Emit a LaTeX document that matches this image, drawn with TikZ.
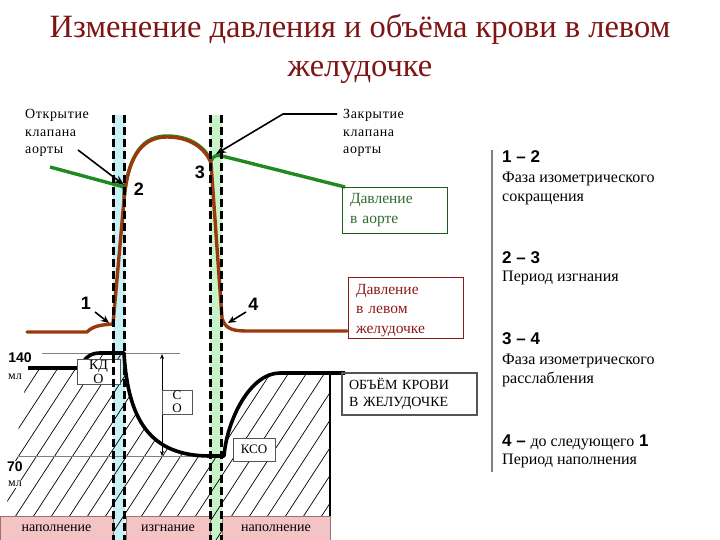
\documentclass[tikz,border=0pt]{standalone}
\usepackage{fontspec}
\setmainfont{Liberation Serif}
\newfontfamily\numf{Liberation Sans}
\newfontfamily\spaced[LetterSpace=4.5]{Liberation Serif}
\usetikzlibrary{arrows.meta}
\definecolor{titlered}{HTML}{7F1414}
\definecolor{brownc}{HTML}{9A3A0C}
\definecolor{greenc}{HTML}{1F8A1F}
\definecolor{bandblue}{HTML}{C8F0F5}
\definecolor{bandgreen}{HTML}{C8F3C8}
\definecolor{pinkf}{HTML}{F4C4C4}
\definecolor{pinkd}{HTML}{9A7070}
\definecolor{lvtext}{HTML}{8B1A1A}
\definecolor{aotext}{HTML}{2E6B2E}
\definecolor{boxgray}{HTML}{555555}
\tikzset{
  fs/.style n args={2}{font=\fontsize{#1}{#2}\selectfont},
  digit/.style={inner sep=0pt, font=\numf\bfseries\fontsize{18}{18}\selectfont},
  hdr/.style={inner sep=0pt, anchor=base west, font=\numf\bfseries\fontsize{17}{17}\selectfont},
  desc/.style={inner sep=0pt, align=left, font=\fontsize{16}{19.5}\selectfont},
  lbl/.style={inner sep=0pt, align=left, font=\spaced\fontsize{14}{17.7}\selectfont},
  arr/.style={-{Stealth[length=10pt,width=8pt]}, line width=1.6pt},
  sarr/.style={-{Stealth[length=8pt,width=7pt]}, line width=1.6pt},
  smallbox/.style={draw=boxgray, line width=1pt, fill=white, inner xsep=1pt, inner ysep=0pt, align=center},
  pinkbox/.style={draw=pinkd, line width=0.8pt, fill=pinkf, inner sep=0pt, minimum height=24pt, font=\fontsize{14}{14}\selectfont},
  dashv/.style={line width=2.8pt, dash pattern=on 8pt off 4pt},
  ml/.style={inner sep=1pt, fill=white, font=\fontsize{12}{12}\selectfont},
  mlnum/.style={inner sep=1pt, fill=white, font=\numf\bfseries\fontsize{14}{14}\selectfont},
}
\begin{document}
\begin{tikzpicture}[x=1pt,y=-1pt]
\useasboundingbox (0,0) rectangle (720,540);
% title
\node[fs={32.5}{39}, text=titlered, align=center, inner sep=0pt] (title) at (360,48.5)
  {Изменение давления и объёма крови в левом\\желудочке};
% bands
\fill[bandblue] (113,115) rectangle (125,540);
\fill[bandgreen] (210,115) rectangle (222,540);
% hatching
\begin{scope}
\clip (28,368) -- (80,368) .. controls (85,356) and (92,353) .. (100,353) -- (124,353)
  .. controls (128,420) and (150,456) .. (210,456) -- (224,456)
  .. controls (227,420) and (250,373) .. (280,373) -- (330,373) -- (330,540) -- (5,540) -- (5,516) -- cycle;
\foreach \i in {-12,...,22} {
  \draw[line width=0.7pt] (\i*18,540) -- ++(125,-192);
}
\end{scope}
% gray reference lines
\draw[gray, line width=0.8pt] (42,353.5) -- (180,353.5);
\draw[gray, line width=0.8pt] (18,456) -- (225,456);
\coordinate (dtop) at (162,354);
\coordinate (dbot) at (162,456);
\draw[{Stealth[length=5pt,width=4pt]}-{Stealth[length=5pt,width=4pt]}, line width=0.7pt] (dtop) -- (dbot);
% volume curve
\draw[line width=3.6pt, line join=round] (28,368) -- (80,368) .. controls (85,356) and (92,353) .. (100,353) -- (124,353)
  .. controls (128,420) and (150,456) .. (210,456) -- (224,456)
  .. controls (227,420) and (250,373) .. (280,373) -- (345,373);
\draw[line width=2pt] (330,373) -- (330,540);
% small boxes
\node[smallbox, minimum width=43pt, minimum height=25pt, font=\fontsize{14}{14}\selectfont] (kdo) at (98.5,371.5) {КД\\О};
\node[smallbox, minimum width=30pt, minimum height=24pt, font=\fontsize{13}{13}\selectfont] (co) at (177,402) {С\\О};
\node[smallbox, minimum width=42pt, minimum height=23pt, font=\fontsize{13}{13}\selectfont] (kso) at (254,449.5) {КСО};
% pink boxes
\node[pinkbox, minimum width=113pt] (fill1) at (56.5,528) {наполнение};
\node[pinkbox, minimum width=84pt] (eject) at (168,528) {изгнание};
\node[pinkbox, minimum width=108pt] (fill2) at (276,528) {наполнение};
% scale labels
\node[mlnum] (v140) at (20,358) {140};
\node[ml] (ml1) at (15,377) {мл};
\node[mlnum] (v70) at (15,467) {70};
\node[ml] (ml2) at (15,484) {мл};
% pressure curves
\draw[greenc, line width=3.4pt, line join=round] (50,167) -- (124,187) -- (124,200)
  .. controls (128,151) and (145,136) .. (167,136)
  .. controls (190,136) and (205,147) .. (211,161)
  .. controls (213,155) and (218,155) .. (222,156) -- (345,187);
\draw[brownc, line width=3.4pt, line join=round, line cap=round] (27,332) -- (87,332)
  .. controls (93,326) and (100,325) .. (113,324) -- (124,200)
  .. controls (128,152) and (145,137) .. (167,137)
  .. controls (190,137) and (205,148) .. (211,163) -- (222,318)
  .. controls (225,330) and (235,331) .. (248,331) -- (347,331);
% dashed lines
\draw[dashv] (113.5,115) -- (113.5,540);
\draw[dashv] (124.5,115) -- (124.5,540);
\draw[dashv] (210.5,115) -- (210.5,540);
\draw[dashv] (221.5,115) -- (221.5,540);
% legend boxes
\node[draw=greenc!70!black, line width=0.9pt, text=aotext, minimum width=105pt, minimum height=46pt,
  inner xsep=8pt, text width=89pt, align=left, fs={15.5}{20}] (bao) at (394.5,210) {Давление\\в аорте};
\node[draw=lvtext, line width=0.9pt, text=lvtext, minimum width=115pt, minimum height=61pt,
  inner xsep=8pt, inner ysep=0pt, text width=99pt, align=left, fs={15.5}{19.5}] (blv) at (405.5,307.5) {\rule{0pt}{16pt}Давление\\в левом\\желудочке};
\node[draw=boxgray, line width=1.4pt, minimum width=135pt, minimum height=42pt,
  inner xsep=7pt, text width=121pt, align=left, fs={14}{17.5}] (bvol) at (409.5,394) {ОБЪЁМ КРОВИ\\В ЖЕЛУДОЧКЕ};
% annotations
\node[lbl, anchor=north west] (open) at (25,109) {Открытие\\клапана\\аорты};
\node[lbl, anchor=north west] (close) at (343,109) {Закрытие\\клапана\\аорты};
\coordinate (opens) at (78,150);
\coordinate (p2) at (124,185);
\draw[arr] (opens) -- (p2);
\coordinate (closes) at (337,114);
\coordinate (closek) at (283,114);
\coordinate (p3) at (216,154);
\draw[arr] (closes) -- (closek) -- (p3);
\node[digit] (n1) at (86,303) {1};
\node[digit] (n2) at (139,189) {2};
\node[digit] (n3) at (200,172) {3};
\node[digit] (n4) at (253.5,304) {4};
\coordinate (a1s) at (95,312);
\coordinate (a1e) at (109,323);
\draw[sarr] (a1s) -- (a1e);
\coordinate (a4s) at (246,312);
\coordinate (a4e) at (228,323);
\draw[sarr] (a4s) -- (a4e);
% right panel
\coordinate (rtop) at (492,150);
\coordinate (rbot) at (492,472);
\draw[gray, line width=2pt] (rtop) -- (rbot);
\node[hdr] (h12) at (502,163) {1 – 2};
\node[desc, anchor=north west] (d12) at (502,171.5) {Фаза изометрического\\сокращения};
\node[hdr] (h23) at (502,263) {2 – 3};
\node[desc, anchor=base west] (d23) at (502,281.5) {Период изгнания};
\node[hdr] (h34) at (502,344) {3 – 4};
\node[desc, anchor=north west] (d34) at (502,353.5) {Фаза изометрического\\расслабления};
\node[hdr] (h41) at (502,446) {4 – {\fontspec{Liberation Serif}\mdseries\fontsize{16}{16}\selectfont до следующего} 1};
\node[desc, anchor=base west] (d41) at (502,464.5) {Период наполнения};
\end{tikzpicture}
\end{document}
